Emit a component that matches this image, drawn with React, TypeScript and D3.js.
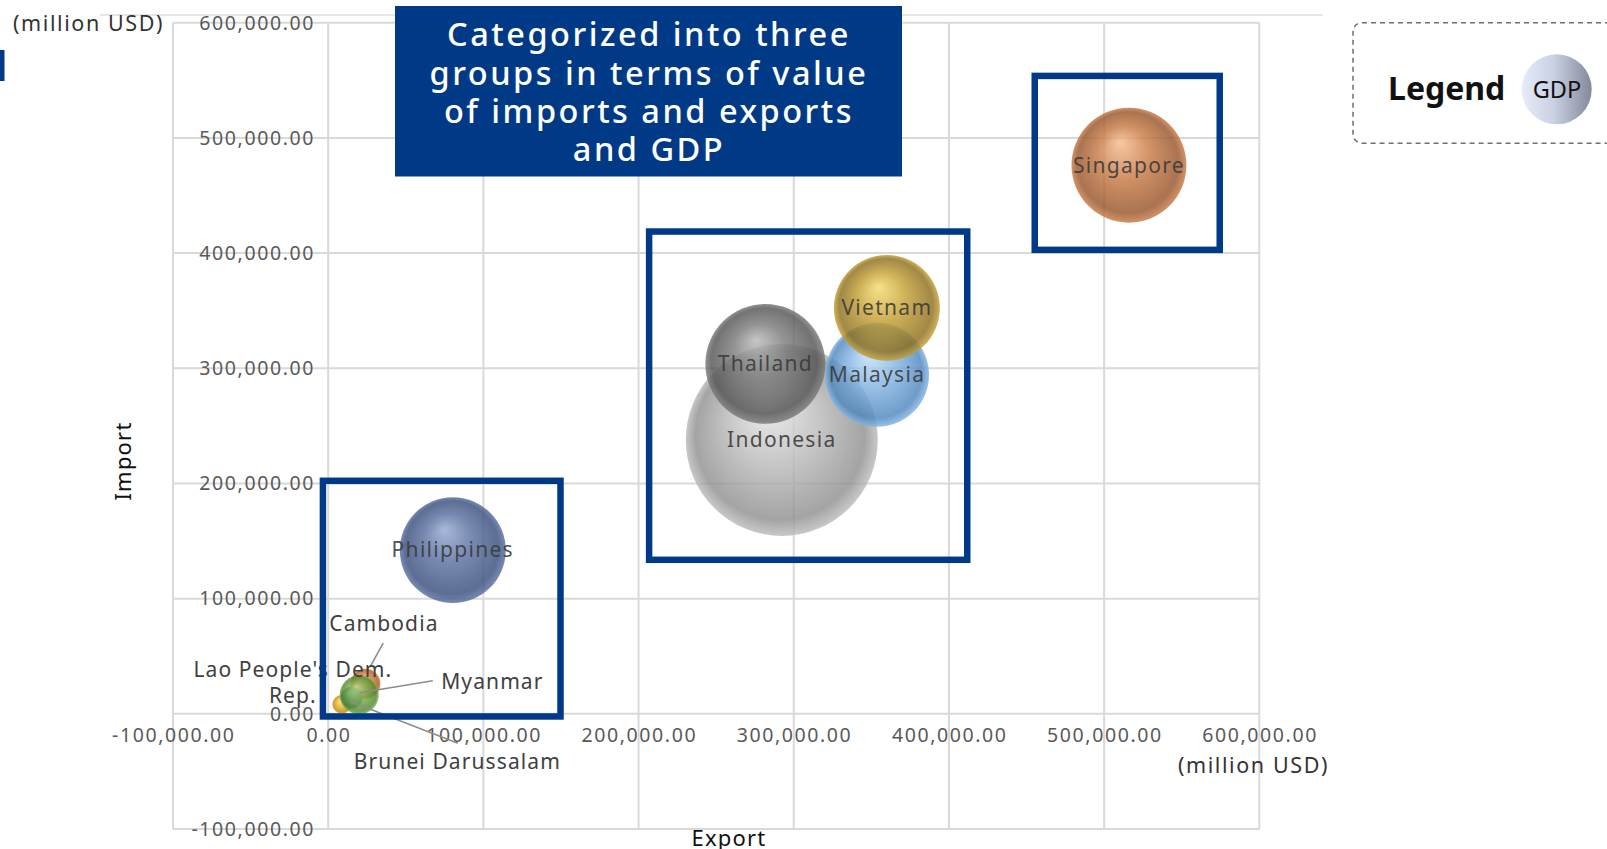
import React from "react";
import * as d3 from "d3";

// ---- data (million USD) ----
const countries = ["Brunei Darussalam", "Cambodia", "Indonesia", "Lao People's Dem. Rep.", "Malaysia", "Myanmar", "Philippines", "Singapore", "Thailand", "Vietnam"];
const exportValues = [8800, 24000, 292300, 15000, 353700, 20000, 80300, 516000, 281700, 360000];
const importValues = [8200, 26000, 237800, 14000, 294300, 16500, 142100, 476300, 303800, 352400];
const gdpValues = [11600, 29000, 1186000, 15600, 348000, 49000, 361000, 425000, 463000, 361000];

const tickValues = [-100000, 0, 100000, 200000, 300000, 400000, 500000, 600000];

// group boxes in data units: [x0, x1, y0, y1]
const groupBoxes = [
  [-3400, 149700, -2300, 202300],
  [206800, 411800, 133700, 418700],
  [455300, 574500, 402800, 553800],
];

const titleLines = ["Categorized into three", "groups in terms of value", "of imports and exports", "and GDP"];

// ---- styles ----
const palette: Record<string, [string, string, string]> = {
  "Brunei Darussalam": ["#FFE27A", "#E9B623", "#B98A12"],
  Cambodia: ["#F5B27A", "#D98040", "#A85A20"],
  Indonesia: ["#EBEBEB", "#BCBCBC", "#909090"],
  "Lao People's Dem. Rep.": ["#7FB3D6", "#3F7FA8", "#2A5A80"],
  Malaysia: ["#C6E0F7", "#82B4E2", "#4F86BD"],
  Myanmar: ["#C0DF92", "#7EB04C", "#4E8A2E"],
  Philippines: ["#94A8D0", "#5A70A0", "#394D7C"],
  Singapore: ["#F6BC8F", "#C87A45", "#97552A"],
  Thailand: ["#B8B8B8", "#7A7A7A", "#545454"],
  Vietnam: ["#F4DC72", "#C4A032", "#8C6E1E"],
};

// annotation layout for small bubbles (pixel offsets from bubble centre)
const smallLabels: Record<string, { lines: string[]; dx: number; dy: number; anchor: string; leader?: [number, number, number, number] }> = {
  Cambodia: { lines: ["Cambodia"], dx: 18.5, dy: -60, anchor: "middle", leader: [17.8, -40.7, 4.5, -16.7] },
  Myanmar: { lines: ["Myanmar"], dx: 82, dy: -13, anchor: "start", leader: [73.6, -14, 0.5, -2] },
  "Brunei Darussalam": { lines: ["Brunei Darussalam"], dx: 115.5, dy: 57, anchor: "middle", leader: [116, 38.8, 8, -3] },
  "Lao People's Dem. Rep.": { lines: ["Lao People's Dem.", "Rep."], dx: -58.6, dy: -28, anchor: "middle" },
};

const FONT = "'Noto Sans', 'DejaVu Sans', sans-serif";

export default function App() {
  const W = 1607;
  const H = 849;
  const x = d3.scaleLinear().domain([-100000, 600000]).range([173, 1259.3]);
  const y = d3.scaleLinear().domain([-100000, 600000]).range([829, 22.7]);
  const r = d3.scaleSqrt().domain([0, 1186000]).range([0, 96]);
  const fmt = (v: number) => d3.format(",.2f")(v).replace("\u2212", "-");

  const pts = countries.map((c, i) => ({
    name: c,
    cx: x(exportValues[i]),
    cy: y(importValues[i]),
    r: r(gdpValues[i]),
  }));
  const big = new Set(["Indonesia", "Malaysia", "Philippines", "Singapore", "Thailand", "Vietnam"]);

  return (
    <svg width={W} height={H} style={{ position: "absolute", left: 0, top: 0, display: "block", background: "#fff" }} fontFamily={FONT}>
      <defs>
        {countries.map((c, i) => (
          <radialGradient key={c} id={`g${i}`} cx="50%" cy="50%" r="50%" fx="42%" fy="30%">
            <stop offset="0%" stopColor={palette[c][0]} />
            <stop offset="45%" stopColor={palette[c][1]} />
            <stop offset="88%" stopColor={palette[c][2]} />
            <stop offset="100%" stopColor={palette[c][1]} />
          </radialGradient>
        ))}
        <linearGradient id="legendGrad" x1="0" x2="1" y1="0" y2="0">
          <stop offset="0%" stopColor="#e6ecf9" />
          <stop offset="45%" stopColor="#c9d1e3" />
          <stop offset="100%" stopColor="#848998" />
        </linearGradient>
      </defs>

      {/* top decorative line */}
      <line x1={100} x2={1323} y1={15} y2={15} stroke="#e6e6e6" strokeWidth={2} />
      <rect x={0} y={50} width={4.5} height={31} fill="#003A87" />

      {/* grid */}
      {tickValues.map((t) => (
        <line key={`v${t}`} x1={x(t)} x2={x(t)} y1={y(600000)} y2={y(-100000)} stroke="#d9d9d9" strokeWidth={2} />
      ))}
      {tickValues.map((t) => (
        <line key={`h${t}`} x1={x(-100000)} x2={x(600000)} y1={y(t)} y2={y(t)} stroke="#d9d9d9" strokeWidth={2} />
      ))}

      {/* tick labels */}
      {tickValues.map((t) => (
        <text key={`yl${t}`} x={315} y={y(t)} dy="0.35em" textAnchor="end" fontSize={19.5} letterSpacing={1.6} fill="#595959">
          {fmt(t)}
        </text>
      ))}
      {tickValues.map((t) => (
        <text key={`xl${t}`} x={x(t) + 0.8} y={735} dy="0.35em" textAnchor="middle" fontSize={19.5} letterSpacing={1.6} fill="#595959">
          {fmt(t)}
        </text>
      ))}

      {/* units and axis titles */}
      <text x={13} y={23.5} dy="0.35em" fontSize={21.5} letterSpacing={1.6} fill="#333">(million USD)</text>
      <text x={1329} y={765} dy="0.35em" textAnchor="end" fontSize={21.5} letterSpacing={1.6} fill="#333">(million USD)</text>
      <text transform="translate(123,461) rotate(-90)" dy="0.35em" textAnchor="middle" fontSize={22} letterSpacing={1.2} fill="#111">Import</text>
      <text x={729} y={838} dy="0.35em" textAnchor="middle" fontSize={22} letterSpacing={1.2} fill="#111">Export</text>

      {/* bubbles */}
      {pts.map((p, i) => (
        <circle key={p.name} cx={p.cx} cy={p.cy} r={p.r} fill={`url(#g${i})`} fillOpacity={0.82} />
      ))}

      {/* bubble labels */}
      {pts.filter((p) => big.has(p.name)).map((p) => (
        <text key={`l${p.name}`} x={p.cx} y={p.cy} dy="0.35em" textAnchor="middle" fontSize={21} letterSpacing={1.3} fill="#3a3a3a" fillOpacity={0.9}>
          {p.name}
        </text>
      ))}
      {pts.filter((p) => smallLabels[p.name]).map((p) => {
        const s = smallLabels[p.name];
        return (
          <g key={`s${p.name}`}>
            {s.leader && (
              <line x1={p.cx + s.leader[0]} y1={p.cy + s.leader[1]} x2={p.cx + s.leader[2]} y2={p.cy + s.leader[3]} stroke="#8c8c8c" strokeWidth={1.6} />
            )}
            {s.lines.map((ln, k) => (
              <text key={k} x={p.cx + s.dx} y={p.cy + s.dy + k * 26} dy="0.35em" textAnchor={s.anchor as any} fontSize={21} letterSpacing={1.1} fill="#404040">
                {ln}
              </text>
            ))}
          </g>
        );
      })}

      {/* group boxes */}
      {groupBoxes.map((b, i) => (
        <rect key={`b${i}`} x={x(b[0])} y={y(b[3])} width={x(b[1]) - x(b[0])} height={y(b[2]) - y(b[3])} fill="none" stroke="#003A87" strokeWidth={6.5} />
      ))}

      {/* title box */}
      <rect x={395} y={6} width={507} height={170.5} fill="#003A87" />
      {titleLines.map((t, i) => (
        <text key={t} x={649} y={35 + i * 38.3} dy="0.35em" textAnchor="middle" fontSize={32.5} letterSpacing={2.5} fill="#fff" fontWeight={500}>
          {t}
        </text>
      ))}

      {/* legend */}
      <rect x={1353} y={22.7} width={270} height={120.5} rx={9} fill="none" stroke="#6f6f6f" strokeWidth={1.5} strokeDasharray="5 4" />
      <text x={1388} y={89} dy="0.35em" fontSize={32} fontWeight={700} fill="#111">Legend</text>
      <circle cx={1556.7} cy={89.3} r={35} fill="url(#legendGrad)" />
      <text x={1557} y={90} dy="0.35em" textAnchor="middle" fontSize={23.5} fill="#111">GDP</text>
    </svg>
  );
}
